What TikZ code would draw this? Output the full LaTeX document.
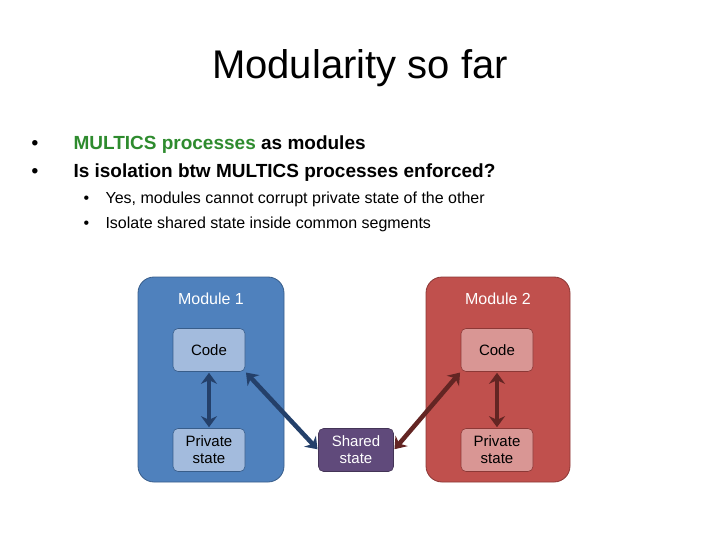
\documentclass[tikz,border=0pt]{standalone}
\usepackage{fontspec}
\setmainfont{Liberation Sans}
\usetikzlibrary{arrows.meta}
\definecolor{mblue}{HTML}{4F81BD}
\definecolor{mblueb}{HTML}{385D8A}
\definecolor{lblue}{HTML}{A3BBDD}
\definecolor{mred}{HTML}{C0504D}
\definecolor{mredb}{HTML}{8C3836}
\definecolor{lred}{HTML}{D99694}
\definecolor{mpurp}{HTML}{604A7B}
\definecolor{ablue}{HTML}{24406A}
\definecolor{ared}{HTML}{632523}
\definecolor{tgreen}{HTML}{2E8B2E}
\tikzset{
  inbox/.style={draw=#1, line width=0.6pt, rounded corners=5pt, minimum width=72pt, minimum height=43pt, align=center, font=\fontsize{15}{17}\selectfont, inner sep=0pt},
  modlabel/.style={text=white, font=\fontsize{16}{18}\selectfont},
  bigarrow/.style={line width=4.5pt, {Stealth[length=11pt,width=16pt]}-{Stealth[length=11pt,width=16pt]}, shorten <=1pt, shorten >=1pt},
  bul/.style={anchor=base west, font=\fontsize{19}{22}\selectfont\bfseries},
  sub/.style={anchor=base west, font=\fontsize{16}{19}\selectfont},
}
\begin{document}
\begin{tikzpicture}[x=1pt,y=-1pt]
\path[use as bounding box] (0,0) rectangle (720,540);
\node[font=\fontsize{40}{46}\selectfont] (title) at (360,68) {Modularity so far};
\node[bul] (b1d) at (28,150) {\textbullet};
\node[bul] (b1) at (70,150) {\textcolor{tgreen}{MULTICS processes} as modules};
\node[bul] (b2d) at (28,178) {\textbullet};
\node[bul] (b2) at (70,178) {Is isolation btw MULTICS processes enforced?};
\node[sub] (s1d) at (80,204) {\textbullet};
\node[sub] (s1) at (102,204) {Yes, modules cannot corrupt private state of the other};
\node[sub] (s2d) at (80,229) {\textbullet};
\node[sub] (s2) at (102,229) {Isolate shared state inside common segments};
\filldraw[fill=mblue, draw=mblueb, line width=0.8pt, rounded corners=16pt] (138,277) rectangle (284,482);
\filldraw[fill=mred, draw=mredb, line width=0.8pt, rounded corners=16pt] (426,277) rectangle (570,482);
\node[modlabel] (m1) at (211,299) {Module 1};
\node[modlabel] (m2) at (498,299) {Module 2};
\node[inbox=mblueb, fill=lblue] (c1) at (209,350) {Code};
\node[inbox=mblueb, fill=lblue] (p1) at (209,450) {Private\\state};
\node[inbox=mredb, fill=lred] (c2) at (497,350) {Code};
\node[inbox=mredb, fill=lred] (p2) at (497,450) {Private\\state};
\node[inbox=mpurp!70!black, fill=mpurp, text=white, minimum width=75pt] (sh) at (356,450) {Shared\\state};
\draw[bigarrow, ablue] (c1) -- (p1);
\draw[bigarrow, ared] (c2) -- (p2);
\draw[bigarrow, ablue] (c1.south east) -- (sh.west);
\draw[bigarrow, ared] (sh.east) -- (c2.south west);
\end{tikzpicture}
\end{document}
